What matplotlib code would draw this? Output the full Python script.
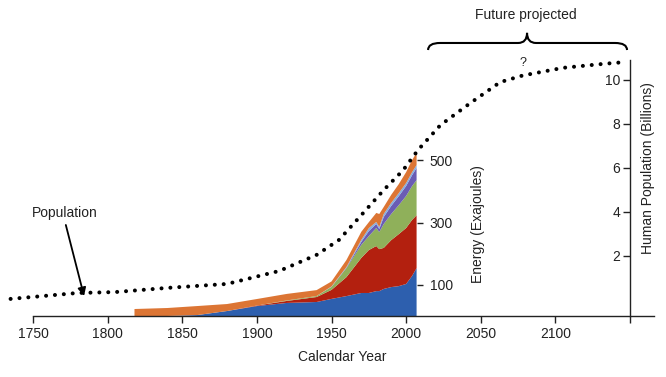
import numpy as np
import matplotlib
matplotlib.use('Agg')
import matplotlib.pyplot as plt
from matplotlib.path import Path
from matplotlib.patches import PathPatch

plt.rcParams['font.family'] = ['Liberation Sans', 'DejaVu Sans']
plt.rcParams['font.size'] = 10

# population (billions)
pop_years = [1735, 1780, 1805, 1840, 1880, 1915, 1940, 1955, 1970, 1985,
             1998, 2008, 2023, 2043, 2063, 2078, 2105, 2132, 2148]
pop_vals = [0.05, 0.32, 0.36, 0.55, 0.73, 1.32, 2.05, 2.73, 3.86, 5.0,
            5.9, 6.82, 7.95, 8.95, 9.9, 10.2, 10.55, 10.73, 10.82]

# energy use by source (exajoules), stacked bottom -> top
e_years = [1818, 1840, 1860, 1880, 1900, 1920, 1940, 1950, 1960, 1970,
           1975, 1980, 1982, 1985, 1990, 1995, 2000, 2004, 2007]
coal = [0, 0, 3, 16, 32, 42, 45, 55, 64, 74, 74, 80, 80, 87, 93, 96, 103, 129, 154]
oil = [0, 0, 0, 0, 1.6, 6.4, 16, 29, 61, 113, 138, 145, 135, 132, 151, 167, 180, 180, 170]
gas = [0, 0, 0, 0, 0, 1.6, 3.2, 9.6, 29, 42, 45, 58, 55, 77, 84, 93, 103, 109, 113]
nuclear = [0, 0, 0, 0, 0, 0, 0, 0, 1.5, 9.6, 16, 13, 9.6, 22.5, 26, 29, 32, 35, 39]
hydro = [0, 0, 0, 0, 0, 0, 0, 1.5, 2, 6.4, 9.6, 6.4, 6.4, 9.6, 9.6, 9.6, 9.6, 9.6, 9.6]
biomass = [22.5, 25.7, 29, 22.5, 21, 21, 19, 16, 22.5, 26, 19, 29, 42, 22.5, 26, 29, 35, 39, 39]
e_colors = ['#2d5fae', '#b3200f', '#8fb05a', '#6a5cb4', '#86aee0', '#dc7534']

x_ticks = [1750, 1800, 1850, 1900, 1950, 2000, 2050, 2100, 2150]
x_labels = ['1750', '1800', '1850', '1900', '1950', '2000', '2050', '2100', '']
e_ticks = [100, 300, 500]
p_ticks = [2, 4, 6, 8, 10]

fig = plt.figure(figsize=(6.66, 3.77), dpi=100)
ax = fig.add_axes([0, 61 / 377, 1, 286 / 377])
ax.set_xlim(1727.9, 2174.1)
ax.set_ylim(0, 919.6)

ax.stackplot(e_years, coal, oil, gas, nuclear, hydro, biomass,
             colors=e_colors, linewidth=0)

# population axis (twinx moves ax ticks to the left, so set ax ticks after)
axp = ax.twinx()
axp.set_ylim(-0.727, 12.27)

for s in ['top', 'left']:
    ax.spines[s].set_visible(False)
ax.spines['bottom'].set_bounds(1750, 2166)
ax.spines['bottom'].set_linewidth(1.0)
ax.spines['bottom'].set_color('#222222')
ax.set_xticks(x_ticks)
ax.set_xticklabels(x_labels)
ax.tick_params(axis='x', direction='out', length=5, width=1.0, pad=3,
               color='#222222', labelcolor='#222222')

# energy axis: ticks only, just right of the stack
ax.spines['right'].set_position(('data', 2007.5))
ax.spines['right'].set_color('none')
ax.yaxis.tick_right()
ax.set_yticks(e_ticks)
ax.tick_params(axis='y', which='both', left=False, labelleft=False,
               right=True, labelright=True, direction='out', length=4,
               width=1.0, pad=5, color='#222222', labelcolor='#222222')
ax.text(2048, 296, 'Energy (Exajoules)', rotation=90, ha='center', va='center',
        color='#222222')
ax.text(1957, -0.143, 'Calendar Year', ha='center', va='center',
        transform=ax.get_xaxis_transform(), color='#222222')

for s in ['top', 'right', 'bottom']:
    axp.spines[s].set_visible(False)
axp.spines['left'].set_position(('data', 2150))
axp.spines['left'].set_bounds(-0.727, 10.9)
axp.spines['left'].set_linewidth(1.0)
axp.spines['left'].set_color('#222222')
axp.yaxis.tick_left()
axp.set_yticks(p_ticks)
axp.tick_params(axis='y', direction='out', length=5, width=1.0, pad=2,
                color='#222222', labelcolor='#222222')
axp.text(2162, 6.0, 'Human Population (Billions)', rotation=90,
         ha='center', va='center', color='#222222')

axp.plot(pop_years, pop_vals, color='black', lw=2.9,
         linestyle=(0, (0.01, 2.2)), dash_capstyle='round', clip_on=False)

axp.text(1771.4, 3.95, 'Population', ha='center', va='center', color='#222222')
axp.annotate('', xy=(1784.2, 0.18), xytext=(1772, 3.41),
             arrowprops=dict(arrowstyle='-|>', color='black', lw=1.3,
                             mutation_scale=12, shrinkA=0, shrinkB=0))
axp.text(2078.3, 10.77, '?', ha='center', va='center', fontsize=9, color='#222222')

# brace over the projected part
x0, xc, x1 = 2014.7, 2081, 2148
ylow, ymid, ytop = 11.36, 11.68, 12.14
verts = [(x0, ylow), (x0, ymid), (x0 + 8, ymid), (xc - 6, ymid),
         (xc, ymid), (xc, ytop), (xc, ymid), (xc + 6, ymid),
         (x1 - 8, ymid), (x1, ymid), (x1, ylow)]
codes = [Path.MOVETO, Path.CURVE3, Path.CURVE3, Path.LINETO,
         Path.CURVE3, Path.CURVE3, Path.CURVE3, Path.CURVE3,
         Path.LINETO, Path.CURVE3, Path.CURVE3]
brace = PathPatch(Path(verts, codes), facecolor='none', edgecolor='black',
                  lw=1.5, clip_on=False)
axp.add_patch(brace)
axp.text(xc - 1, 12.95, 'Future projected', ha='center', va='center', color='#222222')

fig.savefig('out.png', dpi=100)
